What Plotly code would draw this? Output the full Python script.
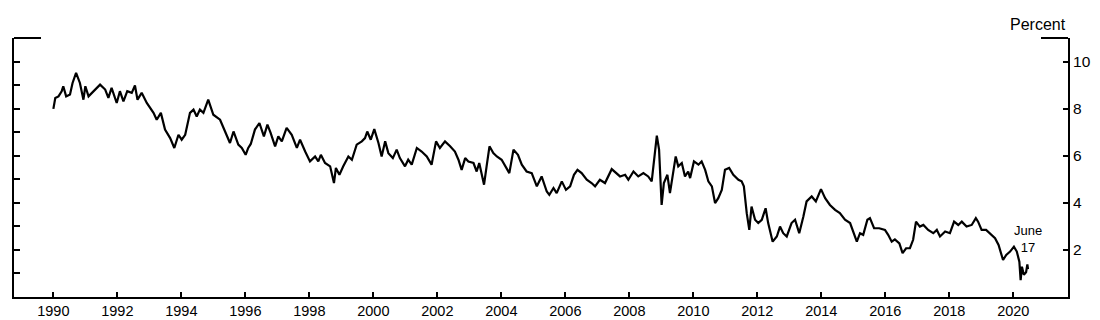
import plotly.graph_objects as go

# Decimal years and percent values
years = [
    1990.00, 1990.06, 1990.16, 1990.26, 1990.31, 1990.40, 1990.52, 1990.60, 1990.71, 1990.75,
    1990.83, 1990.94, 1991.00, 1991.10, 1991.25, 1991.46, 1991.62, 1991.72, 1991.82, 1991.98,
    1992.08, 1992.19, 1992.31, 1992.45, 1992.55, 1992.63, 1992.76, 1992.92, 1993.13, 1993.23,
    1993.36, 1993.49, 1993.65, 1993.78, 1993.91, 1994.01, 1994.12, 1994.27, 1994.38, 1994.48,
    1994.58, 1994.69, 1994.84, 1995.00, 1995.21, 1995.37, 1995.52, 1995.63, 1995.78, 1995.89,
    1996.01, 1996.09, 1996.17, 1996.30, 1996.44, 1996.58, 1996.69, 1996.79, 1996.93, 1997.03,
    1997.14, 1997.29, 1997.45, 1997.61, 1997.71, 1997.87, 1998.02, 1998.18, 1998.28, 1998.36,
    1998.49, 1998.65, 1998.77, 1998.83, 1998.94, 1999.06, 1999.22, 1999.33, 1999.48, 1999.64,
    1999.74, 1999.81, 1999.92, 2000.03, 2000.16, 2000.26, 2000.37, 2000.47, 2000.61, 2000.73,
    2000.83, 2000.99, 2001.09, 2001.20, 2001.36, 2001.51, 2001.67, 2001.82, 2001.96, 2002.08,
    2002.24, 2002.40, 2002.55, 2002.66, 2002.76, 2002.87, 2002.97, 2003.13, 2003.23, 2003.31,
    2003.46, 2003.54, 2003.63, 2003.75, 2003.86, 2004.01, 2004.17, 2004.25, 2004.38, 2004.52,
    2004.64, 2004.79, 2004.95, 2005.11, 2005.26, 2005.42, 2005.50, 2005.63, 2005.73, 2005.89,
    2006.02, 2006.15, 2006.27, 2006.38, 2006.51, 2006.67, 2006.82, 2006.93, 2007.08, 2007.24,
    2007.45, 2007.58, 2007.71, 2007.87, 2007.97, 2008.13, 2008.28, 2008.44, 2008.59, 2008.70,
    2008.77, 2008.86, 2008.93, 2009.01, 2009.08, 2009.19, 2009.27, 2009.38, 2009.45, 2009.53,
    2009.64, 2009.74, 2009.84, 2009.90, 2010.02, 2010.16, 2010.26, 2010.37, 2010.47, 2010.58,
    2010.68, 2010.78, 2010.89, 2010.99, 2011.12, 2011.25, 2011.41, 2011.51, 2011.58, 2011.67,
    2011.75, 2011.82, 2011.93, 2012.03, 2012.14, 2012.26, 2012.34, 2012.48, 2012.61, 2012.71,
    2012.81, 2012.92, 2013.07, 2013.18, 2013.31, 2013.44, 2013.54, 2013.70, 2013.83, 2013.99,
    2014.12, 2014.27, 2014.43, 2014.58, 2014.74, 2014.90, 2015.00, 2015.11, 2015.21, 2015.31,
    2015.44, 2015.52, 2015.65, 2015.81, 2015.99, 2016.09, 2016.20, 2016.30, 2016.44, 2016.54,
    2016.65, 2016.77, 2016.87, 2016.96, 2017.08, 2017.19, 2017.34, 2017.50, 2017.61, 2017.71,
    2017.87, 2018.02, 2018.15, 2018.28, 2018.39, 2018.54, 2018.70, 2018.83, 2018.90, 2019.01,
    2019.15, 2019.27, 2019.43, 2019.54, 2019.68, 2019.78, 2019.90, 2020.02, 2020.11, 2020.19,
    2020.23, 2020.27, 2020.33, 2020.40, 2020.44, 2020.46,
]
percent = [
    7.99, 8.45, 8.52, 8.74, 8.95, 8.52, 8.60, 9.09, 9.52, 9.40,
    9.09, 8.38, 8.95, 8.52, 8.74, 9.02, 8.81, 8.46, 8.88, 8.24,
    8.74, 8.31, 8.74, 8.67, 8.98, 8.38, 8.67, 8.24, 7.82, 7.53,
    7.82, 7.11, 6.75, 6.33, 6.89, 6.68, 6.89, 7.82, 7.96, 7.67,
    7.96, 7.82, 8.38, 7.74, 7.53, 7.03, 6.54, 7.03, 6.47, 6.33,
    6.04, 6.33, 6.50, 7.11, 7.39, 6.82, 7.32, 6.97, 6.40, 6.82,
    6.61, 7.18, 6.89, 6.33, 6.68, 6.18, 5.76, 5.97, 5.76, 6.04,
    5.69, 5.55, 4.84, 5.48, 5.19, 5.55, 5.97, 5.83, 6.47, 6.61,
    6.75, 7.03, 6.68, 7.13, 6.54, 5.97, 6.61, 6.11, 5.90, 6.26,
    5.90, 5.55, 5.83, 5.62, 6.33, 6.18, 5.97, 5.62, 6.61, 6.33,
    6.61, 6.40, 6.18, 5.83, 5.40, 5.90, 5.75, 5.69, 5.33, 5.69,
    4.77, 5.55, 6.40, 6.11, 5.97, 5.83, 5.48, 5.26, 6.26, 6.04,
    5.62, 5.33, 5.26, 4.70, 5.12, 4.48, 4.34, 4.63, 4.41, 4.91,
    4.55, 4.70, 5.19, 5.40, 5.26, 4.98, 4.84, 4.70, 4.98, 4.84,
    5.43, 5.26, 5.12, 5.19, 4.98, 5.33, 5.12, 5.26, 5.12, 4.91,
    5.83, 6.85, 6.26, 3.91, 4.84, 5.19, 4.41, 5.26, 5.97, 5.55,
    5.69, 5.12, 5.33, 5.05, 5.76, 5.62, 5.76, 5.40, 4.91, 4.70,
    3.99, 4.20, 4.55, 5.40, 5.48, 5.19, 4.98, 4.91, 4.70, 3.56,
    2.85, 3.84, 3.28, 3.14, 3.28, 3.77, 3.14, 2.35, 2.57, 2.99,
    2.71, 2.57, 3.14, 3.28, 2.71, 3.42, 4.06, 4.27, 4.06, 4.58,
    4.20, 3.91, 3.70, 3.56, 3.28, 3.14, 2.78, 2.35, 2.71, 2.64,
    3.28, 3.35, 2.92, 2.92, 2.85, 2.64, 2.35, 2.45, 2.28, 1.86,
    2.07, 2.07, 2.43, 3.20, 2.99, 3.06, 2.85, 2.71, 2.85, 2.57,
    2.78, 2.71, 3.20, 3.06, 3.20, 2.99, 3.06, 3.35, 3.20, 2.85,
    2.85, 2.71, 2.50, 2.21, 1.57, 1.79, 1.93, 2.14, 1.93, 1.50,
    0.72, 1.29, 0.94, 1.05, 1.38, 1.18,
]

x_ticks = list(range(1990, 2021, 2))
x_tick_labels = [str(y) for y in x_ticks]
right_ticks = [2, 4, 6, 8, 10]
left_ticks = list(range(1, 11))

FONT = "Arial, Liberation Sans, sans-serif"

fig = go.Figure()
fig.add_trace(go.Scatter(
    x=years, y=percent, mode="lines",
    line=dict(color="black", width=2.2),
    yaxis="y2", showlegend=False, hoverinfo="skip",
))
fig.add_trace(go.Scatter(
    x=years, y=percent, mode="lines",
    line=dict(color="rgba(0,0,0,0)", width=0),
    yaxis="y", showlegend=False, hoverinfo="skip",
))

fig.update_layout(
    width=1100, height=320,
    margin=dict(l=14, r=32, t=38, b=23),
    paper_bgcolor="white", plot_bgcolor="white",
    font=dict(family=FONT, size=14, color="black"),
    xaxis=dict(
        range=[1988.77, 2021.71],
        tickvals=x_ticks, ticktext=x_tick_labels,
        ticks="inside", ticklen=5, tickwidth=2, tickcolor="black",
        showline=True, linewidth=2, linecolor="black",
        showgrid=False, zeroline=False, automargin=False,
        tickfont=dict(size=14.5),
    ),
    yaxis=dict(
        range=[0, 11], tickvals=left_ticks,
        ticks="inside", ticklen=6, tickwidth=2, tickcolor="black",
        showticklabels=False, automargin=False,
        showline=True, linewidth=2, linecolor="black",
        showgrid=False, zeroline=False, side="left",
    ),
    yaxis2=dict(
        range=[0, 11], tickvals=right_ticks,
        ticks="inside", ticklen=5, tickwidth=2, tickcolor="black",
        showline=True, linewidth=2, linecolor="black",
        showgrid=False, zeroline=False, automargin=False,
        overlaying="y", side="right",
        tickfont=dict(size=15.5),
    ),
    shapes=[
        dict(type="line", xref="paper", yref="paper", x0=0, x1=0.0256, y0=1, y1=1,
             line=dict(color="black", width=2)),
        dict(type="line", xref="paper", yref="paper", x0=0.9744, x1=1, y0=1, y1=1,
             line=dict(color="black", width=2)),
    ],
    annotations=[
        dict(text="Percent", xref="paper", yref="paper", x=1.0, y=1.0,
             xanchor="right", yanchor="bottom", yshift=3, showarrow=False,
             font=dict(size=16)),
        dict(text="June<br>17", xref="x", yref="y2", x=2020.45, y=2.45,
             xanchor="center", yanchor="middle", showarrow=False,
             font=dict(size=13)),
    ],
)

fig.write_html("out.html")
